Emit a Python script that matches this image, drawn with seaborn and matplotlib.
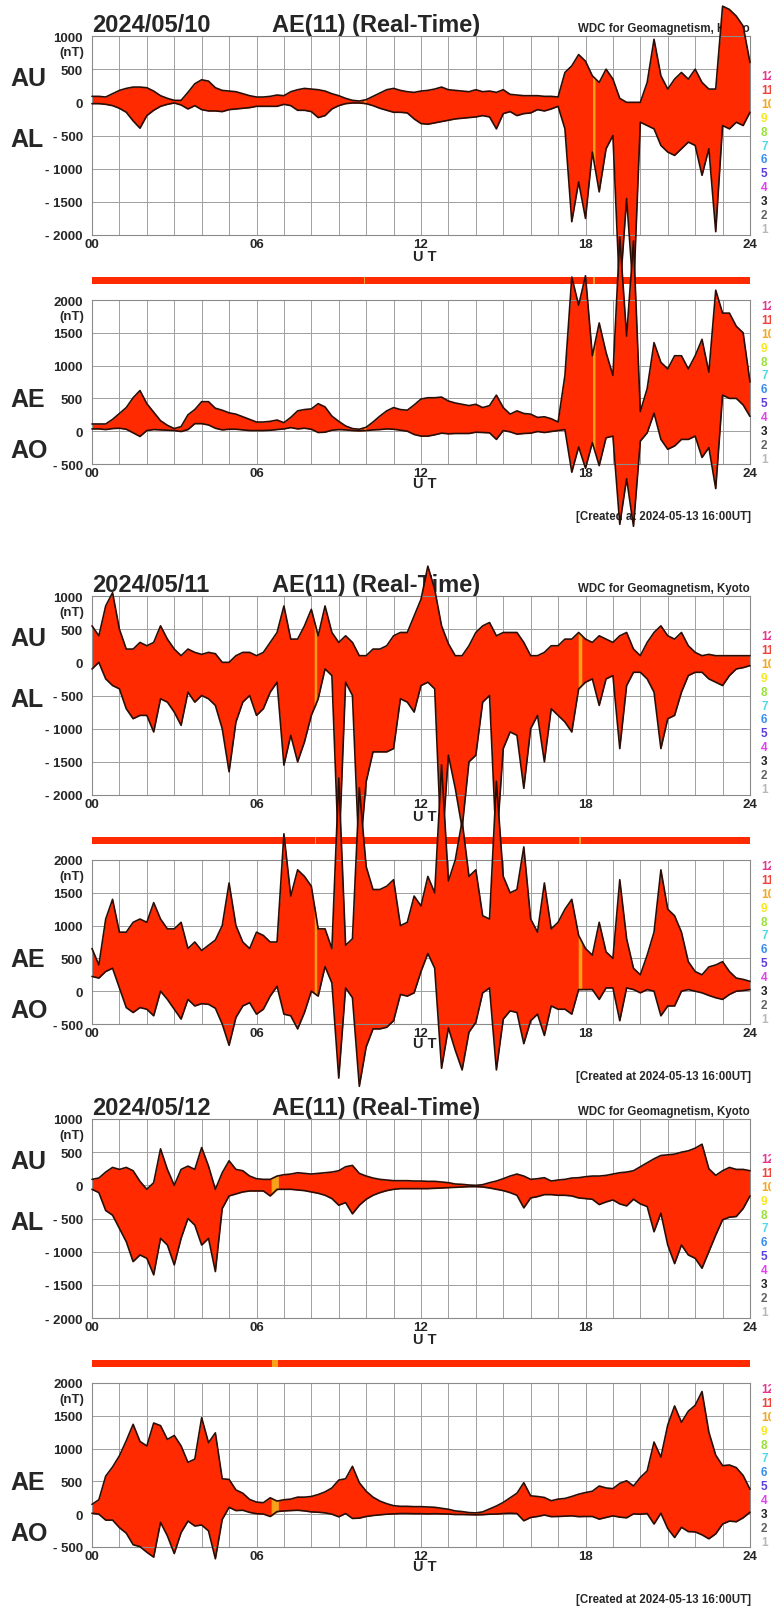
import numpy as np
import matplotlib
matplotlib.use("Agg")
import matplotlib.pyplot as plt
import seaborn as sns

sns.set_style("white")
plt.rcParams['font.family'] = ['Liberation Sans', 'DejaVu Sans']
plt.rcParams['font.weight'] = 'bold'

W, H = 771, 1608
RED = '#ff2a00'
EDGE = '#2a0d05'
ORANGE = '#f7a21b'
GRID = '#a0a0a0'

# 15-minute samples, 00:00 .. 24:00 UT
hours = np.arange(97) * 0.25

dates = ['2024/05/10', '2024/05/11', '2024/05/12']

au_0510 = [90, 90, 80, 130, 180, 210, 230, 230,
           220, 170, 100, 60, 30, 30, 150, 280,
           340, 320, 220, 180, 170, 160, 130, 100,
           80, 80, 90, 110, 100, 160, 190, 210,
           200, 190, 170, 130, 100, 60, 30, 20,
           40, 90, 140, 190, 210, 180, 160, 150,
           170, 180, 200, 230, 190, 180, 170, 160,
           190, 160, 170, 150, 190, 120, 110, 100,
           100, 100, 90, 90, 80, 450, 550, 720,
           620, 400, 300, 500, 350, 60, 0, 0,
           0, 300, 950, 400, 200, 350, 450, 350,
           500, 300, 200, 200, 1450, 1400, 1300, 1150,
           600]
al_0510 = [-20, -20, -30, -50, -90, -150, -280, -390,
           -200, -120, -60, -30, -10, -40, -100, -50,
           -110, -130, -130, -140, -110, -100, -90, -80,
           -60, -60, -60, -60, -30, -50, -120, -120,
           -140, -230, -200, -100, -50, -20, -10, -10,
           -20, -50, -90, -120, -150, -150, -160, -250,
           -320, -330, -310, -290, -270, -250, -240, -230,
           -220, -200, -220, -400, -170, -140, -200, -170,
           -160, -110, -130, -100, -60, -400, -1800, -1200,
           -1750, -750, -1350, -700, -500, -2900, -1450, -2900,
           -300, -350, -400, -650, -750, -800, -700, -600,
           -650, -1100, -700, -1950, -350, -400, -300, -350,
           -150]

au_0511 = [550, 400, 850, 1050, 500, 200, 200, 300,
           250, 300, 550, 350, 200, 100, 200, 150,
           120, 150, 130, 0, 0, 100, 150, 150,
           100, 150, 300, 450, 850, 350, 350, 550,
           800, 400, 850, 450, 300, 400, 300, 100,
           100, 200, 200, 250, 400, 450, 450, 700,
           950, 1450, 1100, 550, 280, 100, 100, 250,
           450, 550, 600, 400, 450, 450, 450, 300,
           100, 100, 150, 250, 250, 350, 350, 450,
           350, 300, 400, 350, 300, 400, 450, 200,
           100, 300, 450, 550, 400, 350, 450, 250,
           150, 100, 120, 100, 100, 100, 100, 100,
           100]
al_0511 = [-100, 0, -250, -350, -400, -700, -850, -800,
           -800, -1050, -550, -600, -750, -950, -450, -600,
           -500, -550, -650, -1000, -1650, -900, -600, -500,
           -800, -700, -450, -300, -1550, -1100, -1500, -1200,
           -800, -550, -100, -200, -2950, -300, -500, -3000,
           -1800, -1350, -1350, -1350, -1300, -550, -600, -750,
           -350, -300, -400, -2900, -1400, -1900, -2500, -1500,
           -1400, -600, -500, -2800, -1300, -1050, -1100, -1900,
           -1000, -800, -1500, -700, -800, -900, -1050, -400,
           -300, -250, -650, -250, -200, -1300, -350, -150,
           -150, -250, -450, -1300, -850, -800, -450, -200,
           -150, -150, -250, -300, -350, -200, -100, -80,
           -50]

au_0512 = [90, 110, 200, 270, 240, 270, 220, 60,
           -60, 40, 550, 240, 0, 240, 290, 240,
           570, 290, -60, 190, 370, 240, 220, 140,
           100, 90, 90, 140, 160, 170, 190, 180,
           170, 180, 190, 200, 220, 280, 300, 180,
           140, 110, 90, 80, 70, 70, 70, 65,
           65, 60, 60, 50, 40, 20, 15, 5,
           0, 10, 40, 65, 100, 140, 170, 140,
           90, 100, 115, 65, 80, 90, 110, 115,
           130, 140, 140, 150, 170, 190, 200, 220,
           280, 340, 400, 450, 460, 470, 500, 520,
           560, 620, 250, 150, 220, 270, 240, 240,
           220]
al_0512 = [-60, -110, -380, -450, -650, -850, -1150, -1050,
           -1100, -1350, -800, -900, -1200, -800, -500, -600,
           -900, -800, -1300, -350, -160, -130, -100, -85,
           -85, -85, -160, -60, -60, -60, -70, -80,
           -100, -120, -150, -200, -300, -260, -430, -300,
           -210, -150, -110, -80, -60, -50, -50, -50,
           -50, -50, -45, -40, -35, -30, -25, -20,
           -20, -25, -40, -60, -80, -110, -150, -340,
           -190, -170, -140, -140, -150, -150, -160, -190,
           -200, -210, -290, -250, -220, -280, -310, -210,
           -280, -320, -700, -420, -900, -1180, -900, -1050,
           -1100, -1250, -1000, -750, -520, -480, -470, -350,
           -160]

# periods with fewer stations (drawn orange), in UT hours
orange_0510 = [(9.93, 9.97), (18.27, 18.33)]
orange_0511 = [(8.12, 8.18), (17.75, 17.85)]
orange_0512 = [(6.55, 6.78)]

au_list = [au_0510, au_0511, au_0512]
al_list = [al_0510, al_0511, al_0512]
orange_list = [orange_0510, orange_0511, orange_0512]
day_tops = [37, 597, 1120]

station_labels = ['12', '11', '10', '9', '8', '7', '6', '5', '4', '3', '2', '1']
station_colors = ['#e8368f', '#f0443a', '#f5a623', '#f8e71c', '#9ae03a', '#50d8e8',
                  '#3a8ef0', '#5b3ce0', '#e040f0', '#202020', '#606060', '#b8b8b8']

fig = plt.figure(figsize=(W / 100, H / 100), dpi=100)


def ax_at(left, top, width, height, z):
    return fig.add_axes([left / W, 1 - (top + height) / H, width / W, height / H], zorder=z)


def text_at(x, y, s, **kw):
    kw.setdefault('fontweight', 'bold')
    kw.setdefault('zorder', 1)
    fig.text(x / W, 1 - y / H, s, **kw)


def draw_panel(ax, upper, lower, ymin, ymax, spans):
    upper = np.asarray(upper, float)
    lower = np.asarray(lower, float)
    ax.set_facecolor('none')
    ax.fill_between(hours, lower, upper, color=RED, lw=0, clip_on=False, zorder=2)
    for t0, t1 in spans:
        tt = np.linspace(t0, t1, 5)
        ax.fill_between(tt, np.interp(tt, hours, lower), np.interp(tt, hours, upper),
                        color=ORANGE, lw=0.6, clip_on=False, zorder=2.5)
    sns.lineplot(x=hours, y=upper, ax=ax, color=EDGE, lw=1.2, zorder=3)
    sns.lineplot(x=hours, y=lower, ax=ax, color=EDGE, lw=1.2, zorder=3)
    for ln in ax.lines:
        ln.set_clip_on(False)
    ax.set_xlim(0, 24)
    ax.set_ylim(ymin, ymax)
    ax.set_xticks(np.arange(25))
    ax.set_xticklabels([f'{h:02d}' if h % 6 == 0 else '' for h in range(25)],
                       fontsize=9.5, fontweight='bold')
    ticks = np.arange(ymin, ymax + 1, 500)
    ax.set_yticks(ticks)
    ax.set_yticklabels([('- %d' % -v) if v < 0 else str(v) for v in ticks],
                       fontsize=9.5, fontweight='bold')
    ax.grid(True, color=GRID, lw=0.7)
    ax.set_axisbelow(True)
    ax.tick_params(length=0, axis='y', pad=6.5)
    ax.tick_params(length=0, axis='x', pad=2)
    ax.set_xlabel('')
    ax.set_ylabel('')
    for s in ax.spines.values():
        s.set_color('#8a8a8a')
        s.set_linewidth(0.8)


for d in range(3):
    top = day_tops[d]
    au = np.asarray(au_list[d], float)
    al = np.asarray(al_list[d], float)
    ae = au - al
    ao = (au + al) / 2

    # station-count bar between the panels
    bar = ax_at(92, top + 241, 658, 7, 0)
    bar.axvspan(0, 24, color=RED, lw=0)
    for t0, t1 in orange_list[d]:
        bar.axvspan(t0, t1, color=ORANGE, lw=0)
    bar.set_xlim(0, 24)
    bar.axis('off')

    ax1 = ax_at(92, top, 658, 199, 2)
    draw_panel(ax1, au, al, -2000, 1000, orange_list[d])
    ax2 = ax_at(92, top + 264, 658, 164, 3)
    draw_panel(ax2, ae, ao, -500, 2000, orange_list[d])

    # titles
    text_at(92, top - 5, dates[d], fontsize=17, va='baseline')
    text_at(272, top - 5, 'AE(11) (Real-Time)', fontsize=17, va='baseline')
    text_at(750, top - 5, 'WDC for Geomagnetism, Kyoto', fontsize=8.3, va='baseline', ha='right')

    # unit labels and index names
    for off in (16, 280):
        text_at(84, top + off, '(nT)', fontsize=9.5, ha='right', va='center')
    text_at(10, top + 42, 'AU', fontsize=18, va='center')
    text_at(10, top + 103, 'AL', fontsize=18, va='center')
    text_at(10, top + 363, 'AE', fontsize=18, va='center')
    text_at(10, top + 414, 'AO', fontsize=18, va='center')
    text_at(425, top + 220, 'U T', fontsize=10.5, ha='center', va='center')
    text_at(425, top + 447, 'U T', fontsize=10.5, ha='center', va='center')

    # station colour key (cut by the right edge)
    for i, (lab, col) in enumerate(zip(station_labels, station_colors)):
        text_at(761, top + 40 + i * 13.9, lab, fontsize=8.5, color=col, va='center')
        text_at(761, top + 270 + i * 13.9, lab, fontsize=8.5, color=col, va='center')

    text_at(751, top + 480, '[Created at 2024-05-13 16:00UT]', fontsize=8.3,
            ha='right', va='center')

fig.savefig('out.png', dpi=100)
